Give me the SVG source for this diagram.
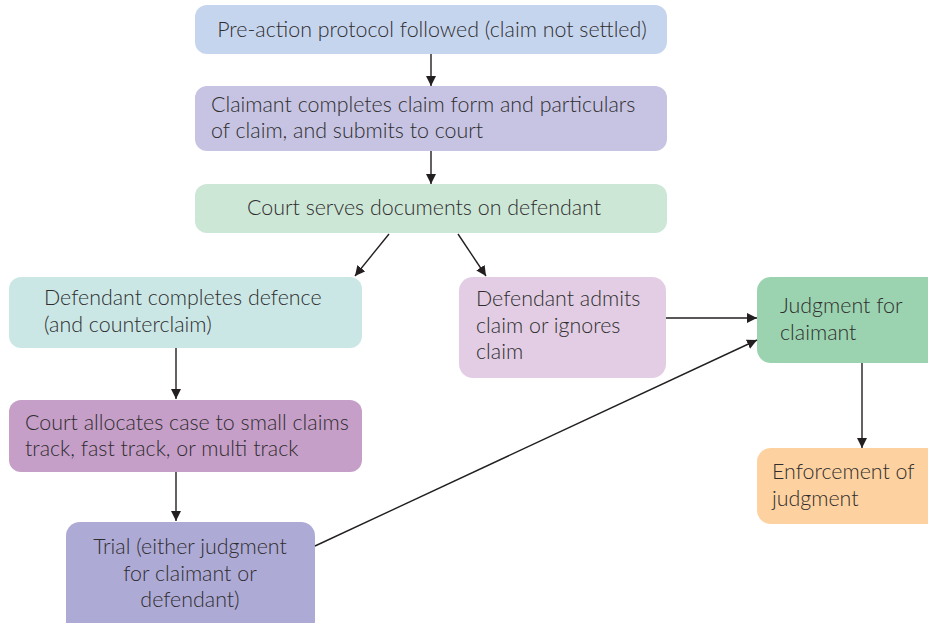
<svg xmlns="http://www.w3.org/2000/svg" width="928" height="623" viewBox="0 0 928 623">
  <style>
    .box { stroke: none; }
    .lbl { font-family: Lato, "Open Sans", "Liberation Sans", sans-serif; font-weight: 300; font-size: 21.4px; fill: #2f2d2e; }
    .mid { text-anchor: middle; }
    .conn line { stroke: #231f20; stroke-width: 1.4; fill: none; marker-end: url(#head); }
  </style>
  <defs>
    <marker id="head" viewBox="0 0 10 10" refX="10" refY="5" markerWidth="10" markerHeight="10" markerUnits="userSpaceOnUse" orient="auto">
      <path d="M0,0 L10,5 L0,10 Z" fill="#231f20"/>
    </marker>
  </defs>
  <rect width="928" height="623" fill="#ffffff"/>

  <g id="pre-action">
    <rect class="box" x="195" y="5" width="472" height="49" rx="12" fill="#c6d5ee"/>
    <text class="lbl mid" x="432" y="37">Pre-action protocol followed (claim not settled)</text>
  </g>

  <g id="claim-form">
    <rect class="box" x="195" y="86" width="472" height="65" rx="12" fill="#c6c4e2"/>
    <text class="lbl" x="211" y="112">Claimant completes claim form and particulars</text>
    <text class="lbl" x="211" y="138">of claim, and submits to court</text>
  </g>

  <g id="serve">
    <rect class="box" x="195" y="184" width="472" height="49" rx="12" fill="#cde7d7"/>
    <text class="lbl mid" x="424" y="215">Court serves documents on defendant</text>
  </g>

  <g id="defence">
    <rect class="box" x="9" y="277" width="353" height="71" rx="12" fill="#cae7e6"/>
    <text class="lbl" x="44" y="305">Defendant completes defence</text>
    <text class="lbl" x="44" y="332">(and counterclaim)</text>
  </g>

  <g id="admits">
    <rect class="box" x="459" y="277" width="207" height="101" rx="14" fill="#e2cde4"/>
    <text class="lbl" x="476" y="306">Defendant admits</text>
    <text class="lbl" x="476" y="333">claim or ignores</text>
    <text class="lbl" x="476" y="359">claim</text>
  </g>

  <g id="judgment">
    <rect class="box" x="757" y="277" width="185" height="86" rx="14" fill="#9bd3b0"/>
    <text class="lbl" x="780" y="313">Judgment for</text>
    <text class="lbl" x="780" y="340">claimant</text>
  </g>

  <g id="allocate">
    <rect class="box" x="9" y="400" width="353" height="72" rx="12" fill="#c69fc9"/>
    <text class="lbl" x="25" y="430">Court allocates case to small claims</text>
    <text class="lbl" x="25" y="456">track, fast track, or multi track</text>
  </g>

  <g id="trial">
    <rect class="box" x="66" y="522" width="249" height="115" rx="14" fill="#aeaad6"/>
    <text class="lbl mid" x="190" y="554">Trial (either judgment</text>
    <text class="lbl mid" x="190" y="581">for claimant or</text>
    <text class="lbl mid" x="190" y="607">defendant)</text>
  </g>

  <g id="enforcement">
    <rect class="box" x="757" y="448" width="185" height="76" rx="14" fill="#fdd2a0"/>
    <text class="lbl" x="772" y="479">Enforcement of</text>
    <text class="lbl" x="772" y="506">judgment</text>
  </g>

  <g id="connectors" class="conn">
    <line x1="431" y1="54" x2="431" y2="86"/>
    <line x1="431" y1="151" x2="431" y2="184"/>
    <line x1="389" y1="234" x2="355" y2="276"/>
    <line x1="458" y1="234" x2="486" y2="276"/>
    <line x1="176" y1="348" x2="176" y2="399"/>
    <line x1="176" y1="472" x2="176" y2="521"/>
    <line x1="666" y1="318" x2="757" y2="318"/>
    <line x1="315" y1="546" x2="757" y2="340"/>
    <line x1="862" y1="363" x2="862" y2="448"/>
  </g>
</svg>
